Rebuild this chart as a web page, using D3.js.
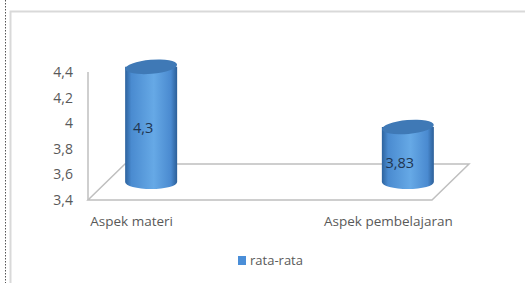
<!DOCTYPE html>
<html lang="en">
<head>
    <meta charset="UTF-8">
    <title>rata-rata</title>
    <script src="https://cdnjs.cloudflare.com/ajax/libs/d3/7.8.4/d3.min.js"></script>
    <style>
        body { margin: 0; background: #fff; }
        svg { display: block; font-family: "Open Sans", sans-serif; }
    </style>
</head>
<body>
    <svg width="525" height="283"></svg>

    <script>
        const categories = ["Aspek materi", "Aspek pembelajaran"];
        const values = [4.3, 3.83];
        const valueLabels = ["4,3", "3,83"];
        const yTicks = [3.4, 3.6, 3.8, 4, 4.2, 4.4];
        const seriesName = "rata-rata";

        const svg = d3.select("svg");

        // frame
        svg.append("line")
            .attr("x1", 5.5).attr("x2", 5.5).attr("y1", 0).attr("y2", 283)
            .attr("stroke", "#555").attr("stroke-dasharray", "1.5,1.5");
        svg.append("path")
            .attr("d", "M10.5,283V11.5H525")
            .attr("fill", "none").attr("stroke", "#d9d9d9").attr("stroke-width", 2);

        const left = 88, right = 432, floorY = 200;
        const depthX = 37, depthY = -36;

        const y = d3.scaleLinear().domain([3.4, 4.4]).range([floorY, 72]);
        const x = d3.scalePoint().domain(categories).range([left, right]).padding(0.17);

        // floor
        svg.append("path")
            .attr("d", `M${left},${floorY}L${right},${floorY}L${right + depthX},${floorY + depthY}L${left + depthX},${floorY + depthY}Z`)
            .attr("fill", "none").attr("stroke", "#bfbfbf").attr("stroke-width", 1.5);

        // value axis
        svg.append("line")
            .attr("x1", left).attr("x2", left)
            .attr("y1", y(4.4)).attr("y2", floorY)
            .attr("stroke", "#bfbfbf").attr("stroke-width", 1.5);

        svg.selectAll("text.tick")
            .data(yTicks)
            .enter().append("text")
            .attr("class", "tick")
            .attr("x", 73)
            .attr("y", d => y(d))
            .attr("dy", "0.35em")
            .attr("text-anchor", "end")
            .attr("font-size", 14)
            .attr("fill", "#595959")
            .text(d => String(d).replace(".", ","));

        // gradients
        const defs = svg.append("defs");
        const body = defs.append("linearGradient").attr("id", "body")
            .attr("x1", "0").attr("x2", "1").attr("y1", "0").attr("y2", "0");
        body.append("stop").attr("offset", "0%").attr("stop-color", "#2d639e");
        body.append("stop").attr("offset", "12%").attr("stop-color", "#4a8bd0");
        body.append("stop").attr("offset", "55%").attr("stop-color", "#66a9e6");
        body.append("stop").attr("offset", "88%").attr("stop-color", "#4a8ad0");
        body.append("stop").attr("offset", "100%").attr("stop-color", "#2c5f98");

        const rx = 26, ry = 7;
        const offX = depthX / 2 + 1, offY = depthY / 2;

        const bars = svg.selectAll("g.bar")
            .data(categories)
            .enter().append("g")
            .attr("class", "bar");

        bars.append("path")
            .attr("fill", "url(#body)")
            .attr("d", (d, i) => {
                const cx = x(d) + offX;
                const top = y(values[i]) + offY;
                const bot = floorY + offY;
                return `M${cx - rx},${top}L${cx - rx},${bot}A${rx},${ry} 0 0 0 ${cx + rx},${bot}L${cx + rx},${top}Z`;
            });

        bars.append("ellipse")
            .attr("cx", d => x(d) + offX)
            .attr("cy", (d, i) => y(values[i]) + offY)
            .attr("rx", rx).attr("ry", ry)
            .attr("fill", "#3f79b6")
            .attr("transform", (d, i) => `rotate(-5,${x(d) + offX},${y(values[i]) + offY})`);

        bars.append("text")
            .attr("x", d => x(d) + offX - 8)
            .attr("y", (d, i) => (i === 0 ? y(values[i]) + offY + 66 : y(values[i]) + offY + 41))
            .attr("text-anchor", "middle")
            .attr("font-size", 14.5)
            .attr("fill", "#1f3550")
            .text((d, i) => valueLabels[i]);

        // category labels
        svg.selectAll("text.cat")
            .data(categories)
            .enter().append("text")
            .attr("class", "cat")
            .attr("x", d => x(d))
            .attr("y", 226)
            .attr("text-anchor", "middle")
            .attr("font-size", 13.5)
            .attr("fill", "#595959")
            .text(d => d);

        // legend
        const legend = svg.append("g").attr("transform", "translate(238,256)");
        legend.append("rect").attr("width", 8).attr("height", 9).attr("fill", "#4a8ed8");
        legend.append("text").attr("x", 12).attr("y", 4.5).attr("dy", "0.35em")
            .attr("font-size", 13).attr("fill", "#595959").text(seriesName);
    </script>
</body>
</html>
